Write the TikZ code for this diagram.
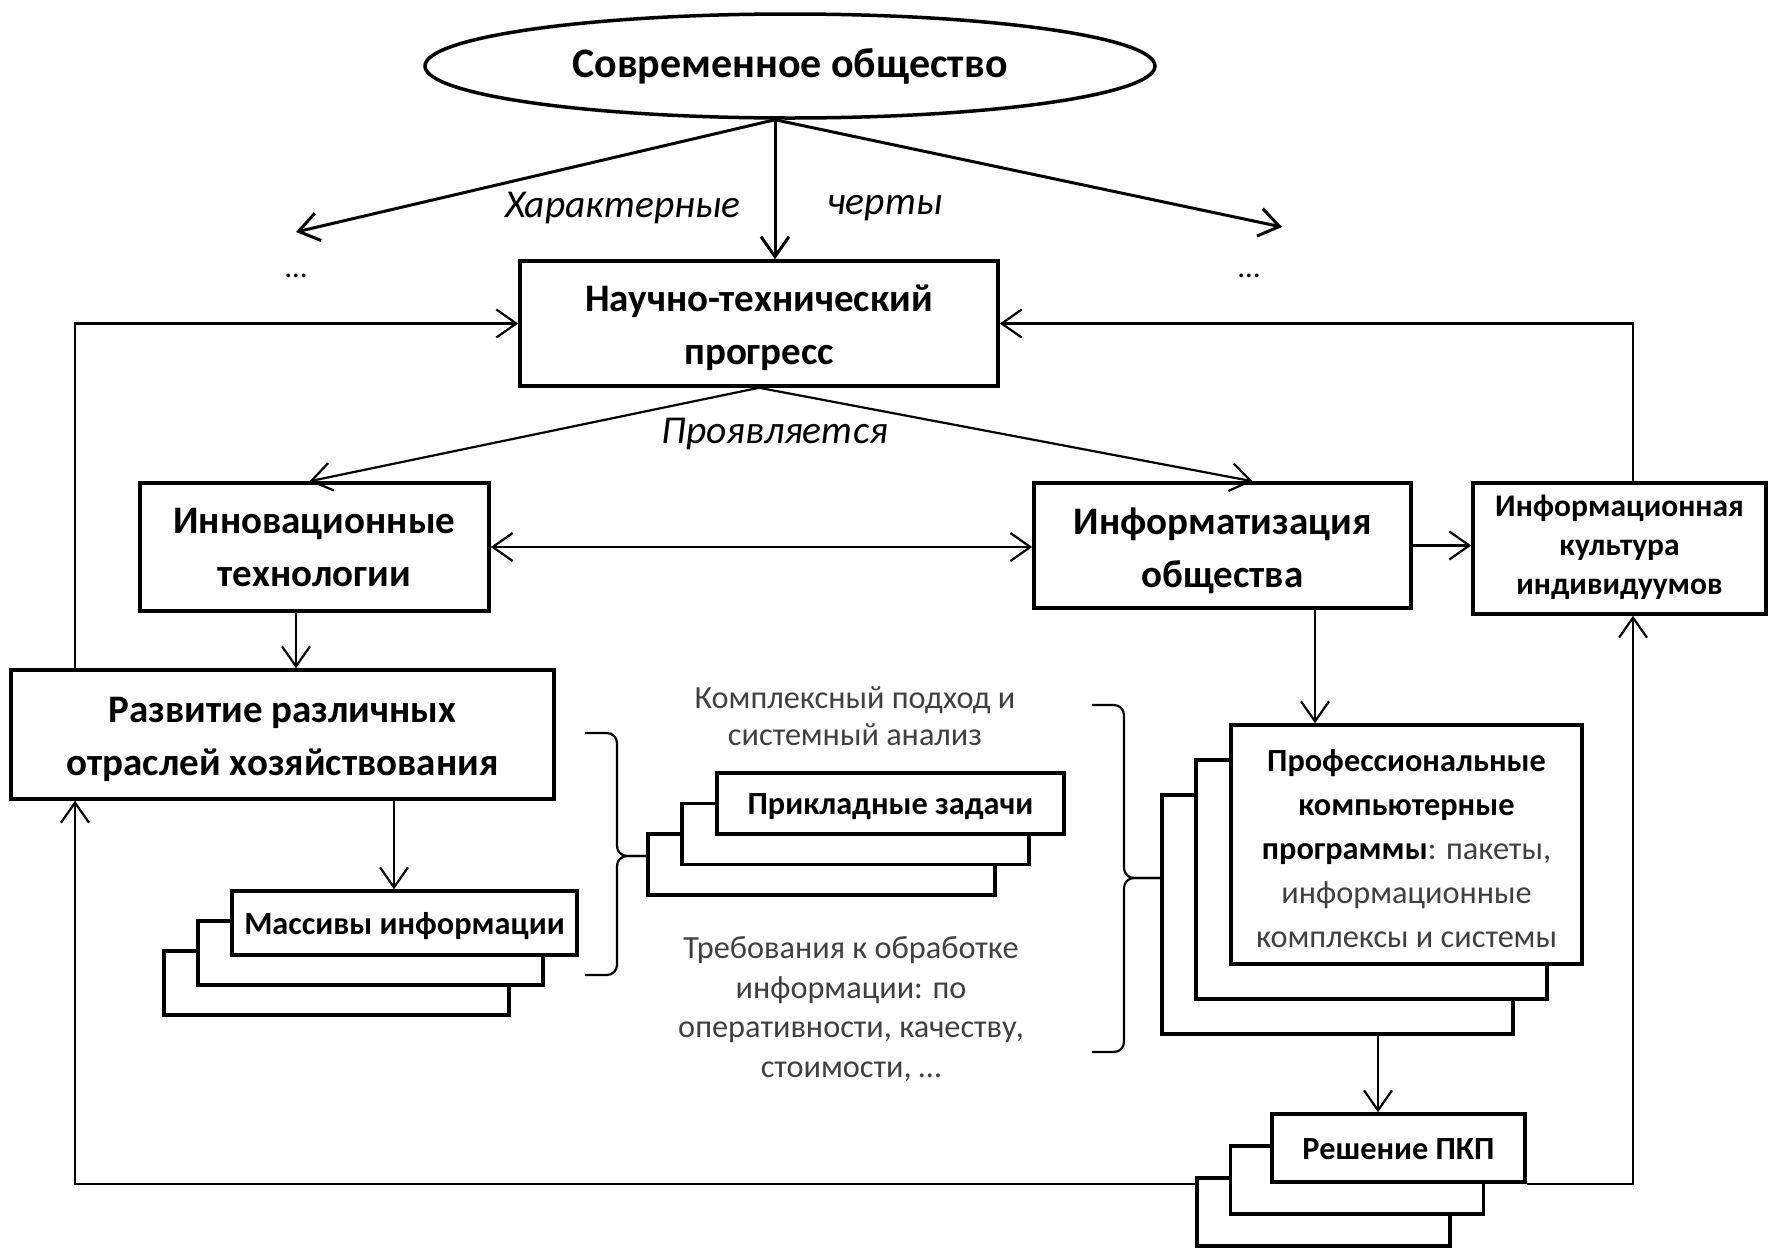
\documentclass[tikz,border=0pt]{standalone}
\usepackage{fontspec}
\setmainfont{Carlito}
\usetikzlibrary{arrows.meta,shapes.geometric,calc}
\definecolor{txtgray}{RGB}{64,64,64}
\newcommand\dgstrut{\rule[-0.269em]{0pt}{1.221em}}
\begin{document}
\begin{tikzpicture}[x=1pt,y=-1pt,
  >={Straight Barb[length=20pt,width=28pt]},
  emptybox/.style={draw, line width=3.5pt, fill=white, inner sep=0pt},
  sbox/.style={emptybox, align=center, font=\bfseries\fontsize{32.3}{38}\selectfont,
     execute at begin node=\dgstrut, execute at end node=\dgstrut},
  boxtext/.style={align=center, inner sep=0pt, font=\bfseries\fontsize{39}{53}\selectfont},
  conn/.style={line width=2.2pt},
  mainarrow/.style={line width=3pt},
  fb/.style={line width=2.2pt},
  gtext/.style={align=center, text=txtgray, inner sep=0pt, font=\fontsize{32.3}{37}\selectfont},
  lab/.style={inner sep=0pt, font=\itshape\fontsize{39.5}{42}\selectfont},
  dots/.style={inner sep=0pt, font=\fontsize{31}{37}\selectfont},
  bracepath/.style={line width=2.2pt, rounded corners=10pt}
]
\useasboundingbox[fill=white] (0,0) rectangle (1774,1248);

% helper coordinates
\coordinate (xL) at (75,0);
\coordinate (xR) at (1633,0);
\coordinate (xA) at (296,0);
\coordinate (xB) at (394,0);
\coordinate (xC) at (1315,0);
\coordinate (xD) at (1378,0);
\coordinate (cl) at (296,232);
\coordinate (cr) at (1282,227);

% main nodes
\node[emptybox, ellipse, minimum width=730pt, minimum height=104pt,
      font=\bfseries\fontsize{42}{50}\selectfont] (soc) at (790,66) {Современное общество};
\node[emptybox, minimum width=478pt, minimum height=125pt] (ntp) at (759,323.5) {};
\node[boxtext] (ntpt) at ([yshift=-4pt]ntp.center) {Научно-технический\\прогресс};
\node[emptybox, minimum width=349pt, minimum height=128pt] (inn) at (314.5,547) {};
\node[boxtext] (innt) at ([yshift=-0.5pt]inn.center) {Инновационные\\технологии};
\node[emptybox, minimum width=377pt, minimum height=125pt] (inf) at (1222.5,545.5) {};
\node[boxtext] (inft) at ([yshift=-5pt]inf.center) {Информатизация\\общества};
\node[emptybox, minimum width=293pt, minimum height=131pt] (cult) at (1619.5,548.5) {};
\node[boxtext, font=\bfseries\fontsize{31.5}{39}\selectfont] (cultt) at ([yshift=1.5pt]cult.center) {Информационная\\культура\\индивидуумов};
\node[emptybox, minimum width=543pt, minimum height=129pt] (razv) at (282.5,734.5) {};
\node[boxtext] (razvt) at ([yshift=-5pt]razv.center) {Развитие различных\\отраслей хозяйствования};

% stack: Массивы информации
\node[emptybox, minimum width=345pt, minimum height=64pt] (mas3) at (336.5,983) {};
\node[emptybox, minimum width=345pt, minimum height=64pt] (mas2) at (370.5,953) {};
\node[sbox, minimum width=345pt, minimum height=64pt] (mas1) at (404.5,923) {Массивы информации};

% stack: Прикладные задачи
\node[emptybox, minimum width=347pt, minimum height=61pt] (pz3) at (821.5,864.5) {};
\node[emptybox, minimum width=347pt, minimum height=61pt] (pz2) at (855.5,834) {};
\node[sbox, minimum width=347pt, minimum height=61pt] (pz1) at (890.5,803.5) {Прикладные задачи};

% stack: Профессиональные компьютерные программы
\node[emptybox, minimum width=351pt, minimum height=239pt] (pr3) at (1337.5,914.5) {};
\node[emptybox, minimum width=351pt, minimum height=239pt] (pr2) at (1371.5,879.5) {};
\node[emptybox, minimum width=351pt, minimum height=239pt] (pr1) at (1406.5,844.5) {};
\node[boxtext, font=\fontsize{32.3}{44}\selectfont] (pr1t) at ([yshift=-4.5pt]pr1.center)
  {\textbf{Профессиональные}\\\textbf{компьютерные}\\\textbf{программы}\textcolor{txtgray}{: пакеты,}\\\textcolor{txtgray}{информационные}\\\textcolor{txtgray}{комплексы и системы}};

% stack: Решение ПКП
\node[emptybox, minimum width=253pt, minimum height=68pt] (pk3) at (1323.5,1212) {};
\node[emptybox, minimum width=253pt, minimum height=68pt] (pk2) at (1357,1180) {};
\node[sbox, minimum width=253pt, minimum height=68pt] (pk1) at (1398.5,1148) {Решение ПКП};

% labels
\node[lab] (l1) at (623,208.5) {Характерные};
\node[lab] (l2) at (885,208.5) {черты};
\node[lab] (l3) at (775,434.5) {Проявляется};
\node[dots] (d1) at (296,276) {…};
\node[dots] (d2) at (1249,276) {…};
\node[gtext] (t1) at (855,716) {Комплексный подход и\\системный анализ};
\node[gtext, font=\fontsize{32.3}{39.5}\selectfont] (t2) at (851,1009) {Требования к обработке\\информации: по\\оперативности, качеству,\\стоимости, …};

% arrows from society
\draw[mainarrow,->] ([xshift=-15pt]soc.south) -- (cl);
\draw[mainarrow,->] ([xshift=-15pt]soc.south) -- (cr);
\draw[mainarrow,->] ([xshift=-15pt]soc.south) -- ([xshift=-15pt]soc.south |- ntp.north);

% connectors
\draw[conn,->] (ntp.south) -- ([xshift=-5pt]inn.north);
\draw[conn,->] (ntp.south) -- ([xshift=30pt]inf.north);
\draw[conn,<->] (inn.east) -- (inn.east -| inf.west);
\draw[conn,->] (inf.east) -- (inf.east -| cult.west);
\draw[conn,->] (inn.south -| xA) -- (razv.north -| xA);
\draw[conn,->] (razv.south -| xB) -- (mas1.north -| xB);
\draw[conn,->] (inf.south -| xC) -- (pr1.north -| xC);
\draw[conn,->] (pr3.south -| xD) -- (pk1.north -| xD);

% feedback loops
\draw[fb,->] (razv.north -| xL) |- (ntp.west);
\draw[fb,->] (cult.north -| xR) |- (ntp.east);
\draw[fb,->] (pk3.west |- pk1.south) -| (razv.south -| xL);
\draw[fb,->] (pk1.south east) -| (cult.south -| xR);

% braces
\draw[bracepath] (585,733) -| (617,856) -- (pz3.west |- 0,856);
\draw[bracepath] (pz3.west |- 0,856) -- (617,856) |- (585,975);
\draw[bracepath] (1092,705) -| (1124,878) -- (pr3.west |- 0,878);
\draw[bracepath] (pr3.west |- 0,878) -- (1124,878) |- (1092,1052);
\end{tikzpicture}
\end{document}
